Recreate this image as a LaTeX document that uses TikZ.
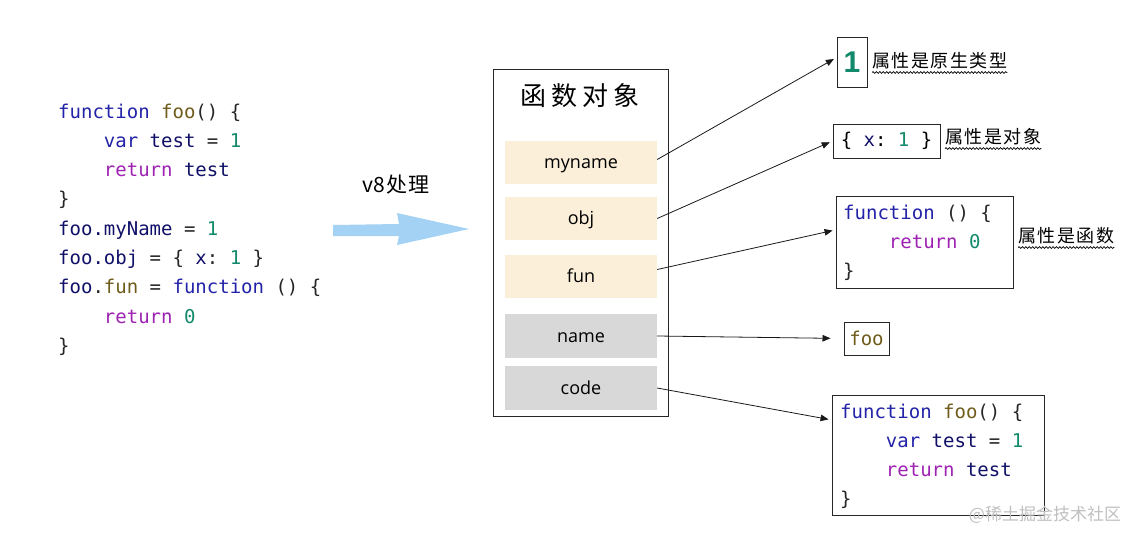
\documentclass[tikz,border=0pt]{standalone}
\usepackage{fontspec}
\setmonofont{DejaVu Sans Mono}
\newfontfamily\cjk{Noto Sans CJK SC}
\newfontfamily\hand{Open Sans}
\newfontfamily\bsans{Liberation Sans}
\usetikzlibrary{arrows.meta,decorations.pathmorphing,calc}
\definecolor{kw}{HTML}{2323A8}
\definecolor{vr}{HTML}{101068}
\definecolor{rt}{HTML}{9E22B2}
\definecolor{nm}{HTML}{12896A}
\definecolor{fn}{HTML}{6F5B1A}
\definecolor{beige}{HTML}{FBEFD9}
\definecolor{grayf}{HTML}{D8D8D8}
\definecolor{arrowblue}{HTML}{A3D2F4}
\newcommand\ind{\phantom{0000}}
\newcommand\K[1]{\textcolor{kw}{#1}}
\newcommand\V[1]{\textcolor{vr}{#1}}
\newcommand\R[1]{\textcolor{rt}{#1}}
\newcommand\N[1]{\textcolor{nm}{#1}}
\newcommand\F[1]{\textcolor{fn}{#1}}
\begin{document}
\begin{tikzpicture}[x=1pt,y=-1pt,
  code/.style={anchor=base west, inner sep=0pt, text=black!85, font=\ttfamily\fontsize{19}{23}\selectfont},
  field/.style={minimum width=152pt, minimum height=43pt, inner sep=0pt, text height=12pt, text depth=0pt, font=\hand\fontsize{18}{20}\selectfont},
  bx/.style={draw=black!85, line width=1pt, inner sep=0pt},
  lab/.style={anchor=west, inner sep=0pt, font=\cjk\fontsize{18}{20}\selectfont},
  wavy/.style={decorate, decoration={snake, amplitude=0.9pt, segment length=3.4pt}, line width=0.7pt},
  arr/.style={-{Triangle[length=8pt,width=6.5pt]}, line width=0.8pt, draw=black!90, shorten >=3pt}]
\useasboundingbox (0,0) rectangle (1142,543);

% left code
\node[code] (c1) at (58,118) {\K{function} \F{foo}() \{};
\node[code] (c2) at (58,147.3) {\ind\K{var} \V{test} = \N{1}};
\node[code] (c3) at (58,176.6) {\ind\R{return} \V{test}};
\node[code] (c4) at (58,205.9) {\}};
\node[code] (c5) at (58,235.2) {\V{foo.myName} = \N{1}};
\node[code] (c6) at (58,264.5) {\V{foo.obj} = \{ \V{x}: \N{1} \}};
\node[code] (c7) at (58,293.8) {\V{foo}.\F{fun} = \K{function} () \{};
\node[code] (c8) at (58,323.1) {\ind\R{return} \N{0}};
\node[code] (c9) at (58,352.4) {\}};

% v8 label and blue arrow
\node[font=\cjk\fontsize{21}{24}\selectfont, inner sep=0pt] (v8) at (396,185) {v8\hspace{2pt}处\hspace{1pt}理};
\fill[arrowblue] (333,225) -- (399,224) -- (397,213) -- (469,229) -- (397,245) -- (399,236) -- (333,236) -- cycle;

% function object box
\node[bx, minimum width=175pt, minimum height=347pt] (fobjbox) at (580.5,242.5) {};
\node[font=\cjk\fontsize{26}{28}\selectfont, inner sep=0pt] (title) at (580,96) {函\hspace{5pt}数\hspace{5pt}对\hspace{5pt}象};
\node[field, fill=beige] (fmyname) at (581,162.5) {myname};
\node[field, fill=beige] (fobj) at (581,218.5) {obj};
\node[field, fill=beige] (ffun) at (581,276.5) {fun};
\node[field, fill=grayf, minimum height=44pt] (fname) at (581,336) {name};
\node[field, fill=grayf, minimum height=44pt] (fcode) at (581,388) {code};

% right side
\node[bx, minimum width=30pt, minimum height=49pt, text=nm, font=\bsans\bfseries\fontsize{30}{32}\selectfont] (one) at (852,62.5) {1};
\node[lab] (lab1) at (872,61) {属\hspace{1.5pt}性\hspace{1.5pt}是\hspace{1.5pt}原\hspace{1.5pt}生\hspace{1.5pt}类\hspace{1.5pt}型};
\draw[wavy] ([yshift=-3pt]lab1.south west) -- ([yshift=-3pt]lab1.south east);

\node[bx, minimum width=107pt, minimum height=34pt, font=\ttfamily\fontsize{19}{23}\selectfont] (xbox) at (886.5,141) {\{ \V{x}: \N{1} \}};
\node[lab] (lab2) at (945,137) {属\hspace{1.5pt}性\hspace{1.5pt}是\hspace{1.5pt}对\hspace{1.5pt}象};
\draw[wavy] ([yshift=-3pt]lab2.south west) -- ([yshift=-3pt]lab2.south east);

\node[bx, minimum width=177pt, minimum height=92pt] (fnbox) at (924.5,242) {};
\node[code] (f1) at (843,219.5) {\K{function} () \{};
\node[code] (f2) at (843,248.5) {\ind\R{return} \N{0}};
\node[code] (f3) at (843,277) {\}};
\node[lab] (lab3) at (1018,236) {属\hspace{1.5pt}性\hspace{1.5pt}是\hspace{1.5pt}函\hspace{1.5pt}数};
\draw[wavy] ([yshift=-3pt]lab3.south west) -- ([yshift=-3pt]lab3.south east);

\node[bx, minimum width=45pt, minimum height=33pt, font=\ttfamily\fontsize{19}{23}\selectfont, text=fn] (foobox) at (866.5,338.5) {foo};

\node[bx, minimum width=212pt, minimum height=120pt] (codebox) at (938,455) {};
\node[code] (k1) at (840,418) {\K{function} \F{foo}() \{};
\node[code] (k2) at (840,447) {\ind\K{var} \V{test} = \N{1}};
\node[code] (k3) at (840,476) {\ind\R{return} \V{test}};
\node[code] (k4) at (840,505) {\}};

% connectors
\coordinate (t1) at ($(one.north west)!0.4!(one.south west)$);
\coordinate (t3) at ($(fnbox.north west)!0.37!(fnbox.south west)$);
\coordinate (t5) at ($(codebox.north west)!0.21!(codebox.south west)$);
\draw[arr] ([yshift=3pt]fmyname.east) -- (t1);
\draw[arr] (fobj.east) -- (xbox.west);
\draw[arr] ([yshift=7pt]ffun.east) -- (t3);
\draw[arr, shorten >=13pt] (fname.east) -- (foobox.west);
\draw[arr] (fcode.east) -- (t5);

% watermark
\node[font=\cjk\fontsize{17}{20}\selectfont, text=black!25, inner sep=0pt] (wm) at (1045,515) {@稀土掘金技术社区};
\end{tikzpicture}
\end{document}
